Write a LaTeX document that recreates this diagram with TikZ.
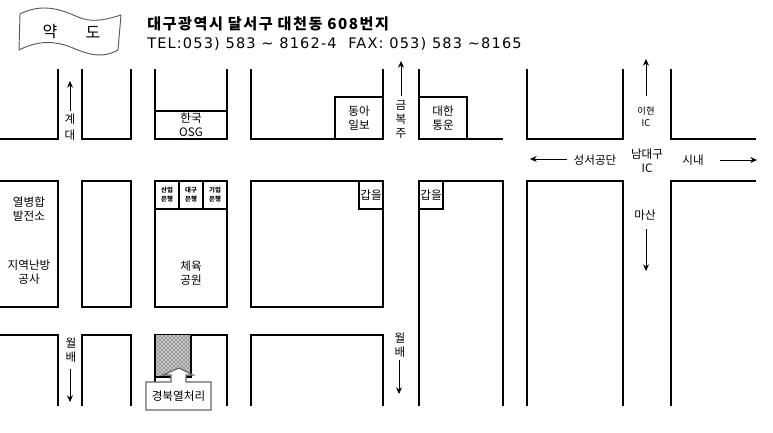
\documentclass[tikz,border=0pt]{standalone}
\usepackage{fontspec}
\setmainfont{Noto Sans CJK KR}
\newfontfamily\headkr[LetterSpace=10]{Noto Sans CJK KR}
\newfontfamily\headlat[LetterSpace=8]{DejaVu Sans}
\usetikzlibrary{arrows.meta,patterns}
\tikzset{
  road/.style={line width=2pt,line cap=butt,line join=miter},
  lbl/.style={inner sep=0pt,align=center,font=\fontsize{8.7}{10.5}\selectfont},
  small/.style={inner sep=0pt,align=center,font=\fontsize{4.8}{6.6}\selectfont\bfseries},
  dir/.style={line width=0.6pt,-{Stealth[length=5pt,width=4.5pt]}},
  head/.style={inner sep=0pt,anchor=west},
}
\begin{document}
\begin{tikzpicture}[x=0.75pt,y=-0.75pt]
\useasboundingbox (0,0) rectangle (773,432);
% banner
\draw[line width=0.7pt,draw=black!65] (20,14) .. controls (42,3) and (60,9) .. (78,17) .. controls (92,23) and (105,20) .. (121,15) -- (118,50) .. controls (100,60) and (85,53) .. (68,46) .. controls (50,40) and (35,42) .. (19,50) -- cycle;
\node[inner sep=0pt,font=\fontsize{12}{14}\selectfont] (yak) at (50,32) {약};
\node[inner sep=0pt,font=\fontsize{12}{14}\selectfont] (do) at (93,32) {도};
\node[head,font=\headkr\fontsize{11.35}{13}\selectfont\bfseries] (addr) at (147,24) {대구광역시 달서구 대천동 608번지};
\node[head,font=\headlat\fontsize{10.9}{13}\selectfont] (tel) at (147,43.5) {TEL:053) 583 \char`~{} 8162-4\ \ FAX: 053) 583 \char`~8165};
% top row
\draw[road] (0,139) -- (58,139) -- (58,69);
\draw[road] (82,69) -- (82,139) -- (131,139) -- (131,69);
\draw[road] (155,69) -- (155,139) -- (227,139) -- (227,69);
\draw[road] (155,111) -- (227,111);
\draw[road] (251,69) -- (251,139) -- (383,139) -- (383,69);
\draw[road] (335,139) -- (335,97) -- (383,97);
\draw[road] (419,69) -- (419,139) -- (503,139);
\draw[road] (419,97) -- (467,97) -- (467,139);
\draw[road] (527,69) -- (527,139) -- (623,139) -- (623,69);
\draw[road] (671,69) -- (671,139) -- (756,139);
% middle row
\draw[road] (0,181) -- (58,181) -- (58,307) -- (0,307);
\draw[road] (82,181) rectangle (131,307);
\draw[road] (155,181) rectangle (227,307);
\draw[road] (155,209) -- (227,209);
\draw[road] (179,181) -- (179,209);
\draw[road] (203,181) -- (203,209);
\draw[road] (251,181) rectangle (383,307);
\draw[road] (359,181) -- (359,209) -- (383,209);
\draw[road] (419,406) -- (419,181) -- (503,181) -- (503,406);
\draw[road] (419,209) -- (443,209) -- (443,181);
\draw[road] (527,406) -- (527,181) -- (623,181) -- (623,406);
\draw[road] (671,406) -- (671,181) -- (756,181);
% bottom row
\draw[road] (0,335) -- (58,335) -- (58,406);
\draw[road] (82,406) -- (82,335) -- (131,335) -- (131,406);
\draw[road] (155,406) -- (155,335) -- (227,335) -- (227,406);
\draw[road] (251,406) -- (251,335) -- (383,335) -- (383,406);
% factory
\fill[black!22] (155,335) rectangle (191,377);
\fill[pattern=crosshatch dots,pattern color=black] (155,335) rectangle (191,377);
\draw[road] (155,335) -- (155,382);
\draw[road] (191,335) -- (191,377) -- (186,377);
\draw[road] (155,377) -- (171,377);
\fill[white] (156,378) rectangle (171,382);
\draw[line width=0.9pt,draw=black!60,fill=white] (146,382) -- (171,382) -- (171,375) -- (163,375) -- (179,368) -- (193,375) -- (186,375) -- (186,382) -- (211,382) -- (211,410) -- (146,410) -- cycle;
\node[lbl] (gb) at (178.5,396) {경북열처리};
% labels
\node[lbl] (gyedae) at (70,127) {계\\[1pt]대};
\coordinate (a1) at (70,81);
\coordinate (a1b) at (70,111);
\draw[dir] (a1b) -- (a1);
\node[lbl] (osg) at (191,125) {한국\\OSG};
\node[lbl] (donga) at (359,118.5) {동아\\일보};
\node[lbl] (daehan) at (443,118.5) {대한\\통운};
\node[lbl] (geumbok) at (401,119) {금\\복\\주};
\coordinate (a2) at (401,61);
\coordinate (a2b) at (401,96);
\draw[dir] (a2b) -- (a2);
\node[lbl] (ga1) at (371,195) {갑을};
\node[lbl] (ga2) at (431,195) {갑을};
\node[small] (b1) at (167,195) {산업\\은행};
\node[small] (b2) at (191,195) {대구\\은행};
\node[small] (b3) at (215,195) {기업\\은행};
\node[lbl,font=\fontsize{8.7}{11}\selectfont] (p1) at (29,209) {열병합\\발전소};
\node[lbl,font=\fontsize{8.7}{11}\selectfont] (p2) at (29,272) {지역난방\\공사};
\node[lbl,font=\fontsize{8.7}{11}\selectfont] (park) at (191,273) {체육\\공원};
\node[lbl] (wb1) at (71,350) {월\\배};
\coordinate (a3) at (70,402);
\coordinate (a3b) at (70,369);
\draw[dir] (a3b) -- (a3);
\node[lbl] (wb2) at (400,345) {월\\배};
\coordinate (a4) at (399,394);
\coordinate (a4b) at (399,360);
\draw[dir] (a4b) -- (a4);
\node[lbl,font=\fontsize{7}{9}\selectfont] (ihyeon) at (646,117) {이현\\IC};
\coordinate (a5) at (646,59);
\coordinate (a5b) at (646,96);
\draw[dir] (a5b) -- (a5);
\node[lbl] (ndg) at (647,161) {남대구\\IC};
\node[lbl] (seongseo) at (595,160) {성서공단};
\coordinate (a6) at (530,159);
\coordinate (a6b) at (567,159);
\draw[dir] (a6b) -- (a6);
\node[lbl] (sinae) at (693,160) {시내};
\coordinate (a7) at (757,160);
\coordinate (a7b) at (720,160);
\draw[dir] (a7b) -- (a7);
\node[lbl] (masan) at (645,215) {마산};
\coordinate (a8) at (646,271);
\coordinate (a8b) at (646,229);
\draw[dir] (a8b) -- (a8);
\end{tikzpicture}
\end{document}
